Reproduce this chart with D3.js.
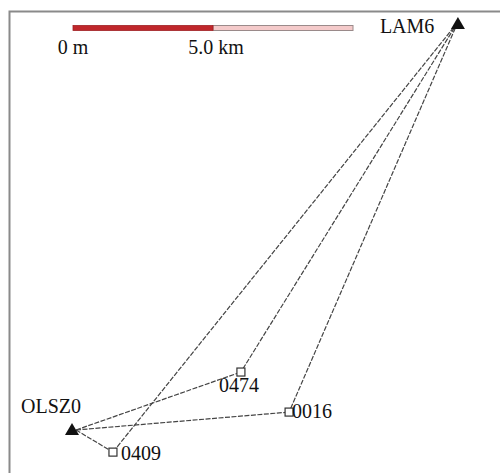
<!DOCTYPE html>
<html>
<head>
<meta charset="utf-8">
<script src="https://cdn.jsdelivr.net/npm/d3@7"></script>
<style>
  html, body { margin: 0; padding: 0; background: #fff; }
  svg { display: block; font-family: "Liberation Serif", "Times New Roman", serif; }
</style>
</head>
<body>
<svg id="map" width="500" height="473"></svg>
<script>
// Station positions in km (east, north) relative to reference station OLSZ0
const baseNames = ["OLSZ0", "LAM6"];
const baseEast = [0, 13.64];
const baseNorth = [0, 14.57];

const roverNames = ["0474", "0016", "0409"];
const roverEast = [5.89, 7.61, 1.32];
const roverNorth = [2.07, 0.64, -0.79];

// Scale bar: total length and labelled ticks (km)
const scaleBarKm = 10;
const scaleTickKm = [0, 5];
const scaleTickLabels = ["0 m", "5.0 km"];

const svg = d3.select("#map");
const W = 500, H = 473;
const pxPerKm = 28;

// Map projection: km -> px
const x = d3.scaleLinear().domain([0, 1]).range([76, 76 + pxPerKm]);
const y = d3.scaleLinear().domain([0, 1]).range([430, 430 - pxPerKm]);

const bases = baseNames.map((n, i) => ({ name: n, e: baseEast[i], n: baseNorth[i] }));
const rovers = roverNames.map((n, i) => ({ name: n, e: roverEast[i], n: roverNorth[i] }));

// Frame (top and left edges)
svg.append("path")
  .attr("d", `M9.5,${H} V11.5 H${W}`)
  .attr("fill", "none")
  .attr("stroke", "#8a8a8a")
  .attr("stroke-width", 2);

// Baselines: every base station to every rover
const links = [];
bases.forEach(b => rovers.forEach(r => links.push({ s: b, t: r })));
svg.append("g").selectAll("line").data(links).join("line")
  .attr("x1", d => x(d.s.e)).attr("y1", d => y(d.s.n))
  .attr("x2", d => x(d.t.e)).attr("y2", d => y(d.t.n))
  .attr("stroke", "#444")
  .attr("stroke-width", 1.2)
  .attr("stroke-dasharray", "5,1.5");

// Scale bar
const sb = d3.scaleLinear().domain([0, scaleBarKm]).range([73, 353]);
const sbY = 28;
svg.append("rect")
  .attr("x", sb(scaleTickKm[1])).attr("y", sbY - 2.5)
  .attr("width", sb(scaleBarKm) - sb(scaleTickKm[1])).attr("height", 5)
  .attr("fill", "#f4caca").attr("stroke", "#9a8a8a").attr("stroke-width", 1);
svg.append("rect")
  .attr("x", sb(0)).attr("y", sbY - 2.5)
  .attr("width", sb(scaleTickKm[1]) - sb(0)).attr("height", 5)
  .attr("fill", "#c0272b").attr("stroke", "#a02024").attr("stroke-width", 0.8);
svg.append("g").selectAll("text").data(scaleTickKm).join("text")
  .attr("x", d => sb(d) + (d > 0 ? 3 : 0)).attr("y", 54)
  .attr("text-anchor", "middle")
  .attr("font-size", 20)
  .attr("fill", "#111")
  .text((d, i) => scaleTickLabels[i]);

// Base station triangles
const tri = d3.symbol().type(d3.symbolTriangle).size(85);
svg.append("g").selectAll("path").data(bases).join("path")
  .attr("transform", d => `translate(${x(d.e) - (d.name === "OLSZ0" ? 4 : 0)},${y(d.n) + (d.name === "OLSZ0" ? 1 : 3)})`)
  .attr("d", tri)
  .attr("fill", "#111");

// Rover squares
svg.append("g").selectAll("rect").data(rovers).join("rect")
  .attr("x", d => x(d.e) - 4).attr("y", d => y(d.n) - 4)
  .attr("width", 8).attr("height", 8)
  .attr("fill", "#fff").attr("stroke", "#333").attr("stroke-width", 1.2);

// Labels
const labelOffset = {
  "OLSZ0": [-55, -17], "LAM6": [-78, 11],
  "0474": [-22, 20], "0016": [3, 6], "0409": [8, 8]
};
svg.append("g").selectAll("text").data(bases.concat(rovers)).join("text")
  .attr("x", d => x(d.e) + labelOffset[d.name][0])
  .attr("y", d => y(d.n) + labelOffset[d.name][1])
  .attr("font-size", 20)
  .attr("fill", "#111")
  .text(d => d.name);
</script>
</body>
</html>
